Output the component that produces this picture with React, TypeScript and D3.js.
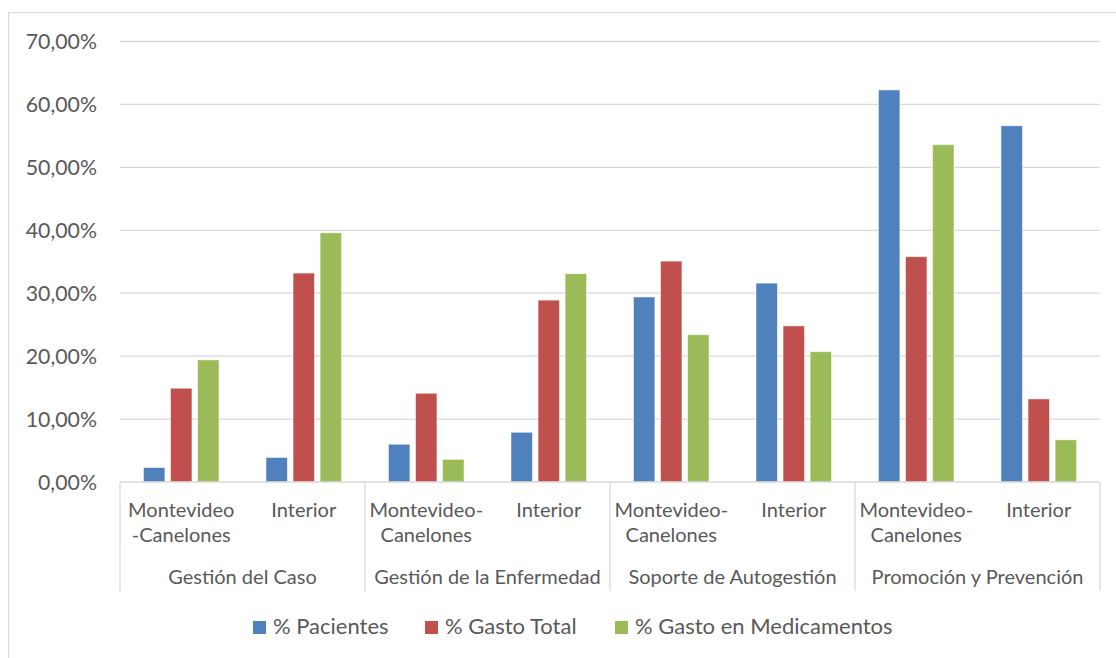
import React from "react";
import * as d3 from "d3";

// Programme groups and the two regions inside each one
const groups = [
  "Gestión del Caso",
  "Gestión de la Enfermedad",
  "Soporte de Autogestión",
  "Promoción y Prevención",
];
const regionLabels: string[][] = [
  ["Montevideo", "-Canelones"],
  ["Interior"],
  ["Montevideo-", "Canelones"],
  ["Interior"],
  ["Montevideo-", "Canelones"],
  ["Interior"],
  ["Montevideo-", "Canelones"],
  ["Interior"],
];

// Percentages per slot (group × region)
const pacientes = [2.3, 3.9, 6.0, 7.9, 29.4, 31.6, 62.3, 56.6];
const gastoTotal = [14.9, 33.2, 14.1, 28.9, 35.1, 24.8, 35.8, 13.2];
const gastoMedicamentos = [19.4, 39.6, 3.6, 33.1, 23.4, 20.7, 53.6, 6.7];

const seriesNames = ["% Pacientes", "% Gasto Total", "% Gasto en Medicamentos"];
const seriesColors = ["#4F81BD", "#C0504D", "#9BBB59"];
const yTicks = [0, 10, 20, 30, 40, 50, 60, 70];

const W = 1116;
const H = 658;
const FONT = "Lato, 'Open Sans', sans-serif";
const TEXT = "#595959";
const GRID = "#d9d9d9";

const plot = { left: 120, right: 1100, top: 41.5, bottom: 482 };

const locale = d3.formatLocale({
  decimal: ",",
  thousands: ".",
  grouping: [3],
  currency: ["", ""],
});
const fmt = locale.format(".2f");

export default function App() {
  const series = [pacientes, gastoTotal, gastoMedicamentos];
  const slotKeys = regionLabels.map((_, i) => String(i));

  const x0 = d3
    .scaleBand<string>()
    .domain(slotKeys)
    .range([plot.left, plot.right])
    .padding(0);

  const clusterWidth = 75.5;
  const x1 = d3
    .scaleBand<string>()
    .domain(seriesNames)
    .range([(x0.bandwidth() - clusterWidth) / 2, (x0.bandwidth() + clusterWidth) / 2])
    .paddingInner(0.21)
    .paddingOuter(0);

  const y = d3.scaleLinear().domain([0, 70]).range([plot.bottom, plot.top]);

  const groupWidth = (plot.right - plot.left) / groups.length;
  const groupEdges = d3.range(groups.length + 1).map((i) => plot.left + i * groupWidth);

  const legendItems = [
    { x: 253, textX: 273 },
    { x: 425, textX: 445 },
    { x: 615, textX: 635 },
  ];

  return (
    <svg
      width={W}
      height={H}
      style={{ position: "absolute", left: 0, top: 0, background: "#fff" }}
      fontFamily={FONT}
    >
      {/* chart frame */}
      <rect x={8.5} y={12.5} width={W + 10} height={H + 10} fill="#fff" stroke={GRID} strokeWidth={1.2} />

      {/* gridlines and value axis labels */}
      {yTicks.map((t) => (
        <g key={t}>
          {t > 0 && (
            <line x1={plot.left} x2={plot.right} y1={y(t)} y2={y(t)} stroke={GRID} strokeWidth={1.3} />
          )}
          <text
            x={97}
            y={y(t)}
            dy="0.36em"
            textAnchor="end"
            fontSize={21.3}
            fill={TEXT}
          >
            {fmt(t)}%
          </text>
        </g>
      ))}

      {/* bars */}
      {slotKeys.map((k, i) => (
        <g key={k} transform={`translate(${x0(k)},0)`}>
          {series.map((vals, s) => (
            <rect
              key={s}
              x={x1(seriesNames[s])}
              y={y(vals[i])}
              width={x1.bandwidth()}
              height={y(0) - y(vals[i])}
              fill={seriesColors[s]}
              stroke="#ffffff"
              strokeOpacity={0.6}
              strokeWidth={0.8}
            />
          ))}
        </g>
      ))}

      {/* category axis */}
      <line x1={plot.left} x2={plot.right} y1={plot.bottom} y2={plot.bottom} stroke={GRID} strokeWidth={1.3} />
      {groupEdges.map((gx, i) => (
        <line key={i} x1={gx} x2={gx} y1={plot.bottom} y2={591} stroke={GRID} strokeWidth={1.3} />
      ))}

      {slotKeys.map((k, i) => (
        <text key={k} textAnchor="middle" fontSize={20} fill={TEXT}>
          {regionLabels[i].map((line, j) => (
            <tspan key={j} x={(x0(k) ?? 0) + x0.bandwidth() / 2} y={516.5 + j * 25}>
              {line}
            </tspan>
          ))}
        </text>
      ))}

      {groups.map((g, i) => (
        <text
          key={g}
          x={plot.left + (i + 0.5) * groupWidth}
          y={583.5}
          textAnchor="middle"
          fontSize={20}
          fill={TEXT}
        >
          {g}
        </text>
      ))}

      {/* legend */}
      {seriesNames.map((name, s) => (
        <g key={name}>
          <rect x={legendItems[s].x} y={621} width={13} height={13} fill={seriesColors[s]} />
          <text x={legendItems[s].textX} y={634} fontSize={22} fill={TEXT}>
            {name}
          </text>
        </g>
      ))}
    </svg>
  );
}
